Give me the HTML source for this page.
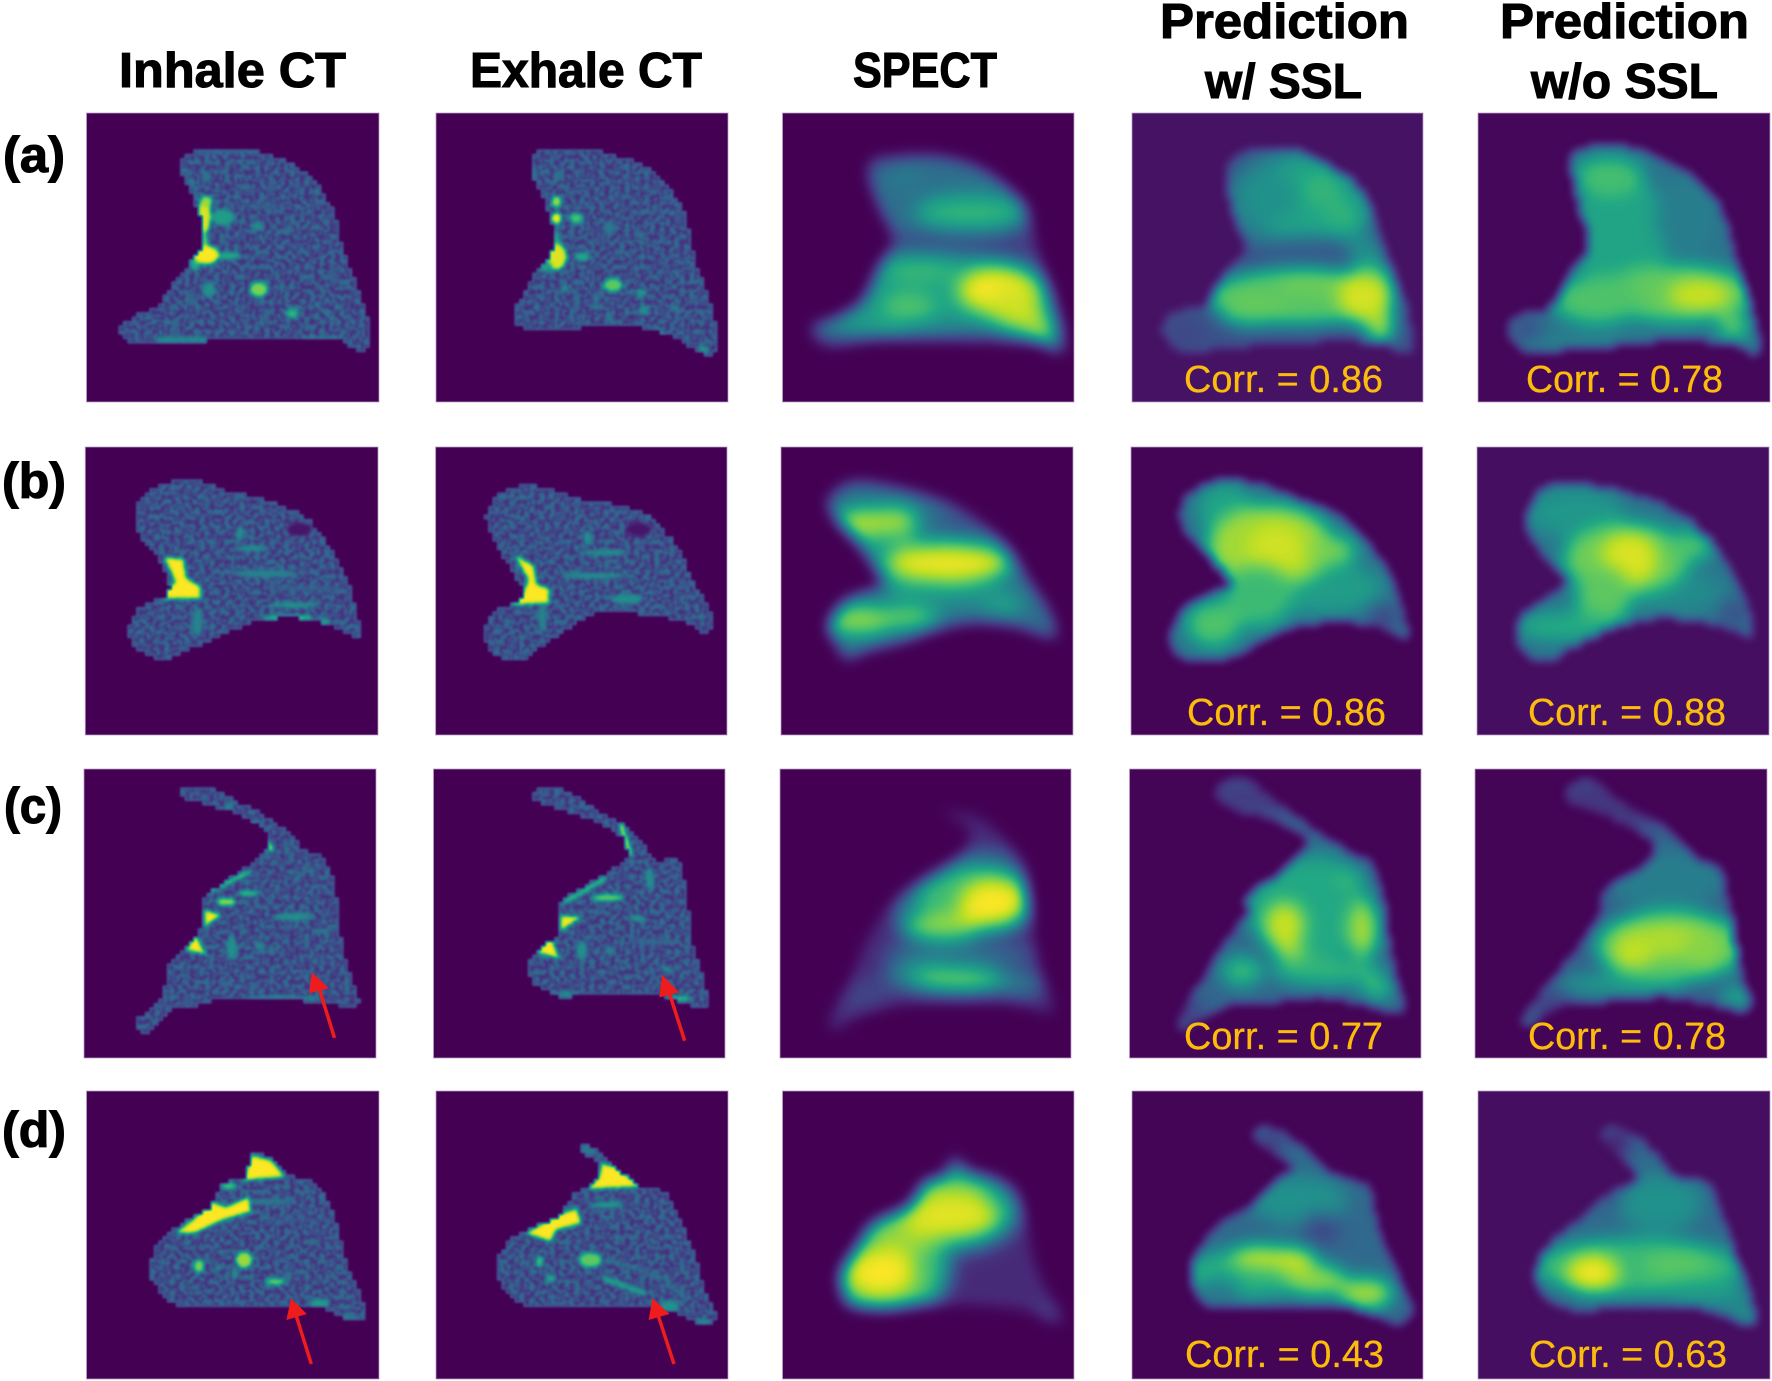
<!DOCTYPE html>
<html lang="en">
<head>
<meta charset="utf-8">
<title>Lung CT, SPECT and predictions</title>
<style>
html,body{margin:0;padding:0;background:#fff;width:1772px;height:1381px;overflow:hidden}
svg{display:block}
.title{font-family:"Liberation Sans",sans-serif;font-weight:bold;font-size:49px;fill:#000;stroke:#000;stroke-width:1.1px}
.rowlab{font-family:"Liberation Sans",sans-serif;font-weight:bold;font-size:50px;fill:#000;stroke:#000;stroke-width:1.1px}
.corr{font-family:"Liberation Sans",sans-serif;font-size:38px;fill:#fdbb0c;stroke:#fdbb0c;stroke-width:.3px}
</style>
</head>
<body>
<svg id="figure" xmlns="http://www.w3.org/2000/svg" width="1772" height="1381" viewBox="0 0 1772 1381">
  <defs id="defs"></defs>
  <g id="panels"></g>

  <g>
    <text class="title" x="119" y="87" textLength="227" lengthAdjust="spacingAndGlyphs">Inhale CT</text>
    <text class="title" x="470" y="87" textLength="232" lengthAdjust="spacingAndGlyphs">Exhale CT</text>
    <text class="title" x="853" y="87" textLength="144" lengthAdjust="spacingAndGlyphs">SPECT</text>
    <text class="title" x="1160" y="38" textLength="249" lengthAdjust="spacingAndGlyphs">Prediction</text>
    <text class="title" x="1205" y="98" textLength="157" lengthAdjust="spacingAndGlyphs">w/ SSL</text>
    <text class="title" x="1500" y="38" textLength="249" lengthAdjust="spacingAndGlyphs">Prediction</text>
    <text class="title" x="1531" y="98" textLength="187" lengthAdjust="spacingAndGlyphs">w/o SSL</text>
  </g>

  <g>
    <text class="rowlab" x="3" y="172" textLength="62" lengthAdjust="spacingAndGlyphs">(a)</text>
    <text class="rowlab" x="2" y="498" textLength="64" lengthAdjust="spacingAndGlyphs">(b)</text>
    <text class="rowlab" x="4" y="823" textLength="58" lengthAdjust="spacingAndGlyphs">(c)</text>
    <text class="rowlab" x="2" y="1147" textLength="64" lengthAdjust="spacingAndGlyphs">(d)</text>
  </g>

  <g>
    <text class="corr" x="1184" y="392" textLength="199" lengthAdjust="spacingAndGlyphs">Corr. = 0.86</text>
    <text class="corr" x="1526" y="392" textLength="197" lengthAdjust="spacingAndGlyphs">Corr. = 0.78</text>
    <text class="corr" x="1187" y="725" textLength="199" lengthAdjust="spacingAndGlyphs">Corr. = 0.86</text>
    <text class="corr" x="1528" y="725" textLength="198" lengthAdjust="spacingAndGlyphs">Corr. = 0.88</text>
    <text class="corr" x="1184" y="1049" textLength="199" lengthAdjust="spacingAndGlyphs">Corr. = 0.77</text>
    <text class="corr" x="1528" y="1049" textLength="198" lengthAdjust="spacingAndGlyphs">Corr. = 0.78</text>
    <text class="corr" x="1185" y="1367" textLength="199" lengthAdjust="spacingAndGlyphs">Corr. = 0.43</text>
    <text class="corr" x="1529" y="1367" textLength="198" lengthAdjust="spacingAndGlyphs">Corr. = 0.63</text>
  </g>

  <g fill="#ee1c1c" stroke="#ee1c1c">
    <g>
      <line x1="334.5" y1="1037.9" x2="319" y2="988" stroke-width="3.5"/>
      <polygon points="311.9,972.2 309,993.2 328.8,988.2" stroke="none"/>
    </g>
    <g>
      <line x1="684.7" y1="1040.8" x2="669" y2="992" stroke-width="3.5"/>
      <polygon points="662.1,974.7 659.3,997.4 679.1,992.4" stroke="none"/>
    </g>
    <g>
      <line x1="311.3" y1="1364" x2="296" y2="1315" stroke-width="3.5"/>
      <polygon points="291,1298.3 286.4,1320 306.8,1314" stroke="none"/>
    </g>
    <g>
      <line x1="674" y1="1364" x2="658" y2="1315" stroke-width="3.5"/>
      <polygon points="652.5,1298.3 648.6,1320 669.5,1314" stroke="none"/>
    </g>
  </g>
</svg>

<script>
// Viridis colormap stops
const viridisR = [.267,.282,.255,.208,.165,.129,.133,.267,.478,.741,.992];
const viridisG = [.004,.141,.267,.373,.471,.569,.659,.749,.820,.875,.906];
const viridisB = [.329,.459,.529,.553,.557,.549,.518,.439,.318,.149,.145];

// Reading frames: [originX, originY, scaleX, scaleY]
const frames = {
  z1:[0,0,1.77,3], z2:[886,0,1.77,3],
  z3:[0,420,1.77,2.376], z4:[886,420,1.77,2.376],
  z5:[0,1060,1.77,3], z6:[886,1060,1.77,3]
};

// Lung outlines and intensity regions, per panel.
// Blob: [cx,cy,rx,ry,intensity]. Streak: [x1,y1,x2,y2,width,intensity]. Patch: [x,y,x,y,...,intensity].
const a1Outline = [350,452,440,450,470,465,505,480,540,520,575,590,595,660,605,740,625,830,640,900,652,980,650,1050,640,1058,610,1030,590,1012,480,1012,415,1015,360,1025,270,1035,230,1025,215,1000,215,975,240,945,280,915,300,860,335,790,355,745,362,690,350,630,335,570,322,520,322,480];
const a1Blobs = [[280,1020,362,1020,12,.5],[540,1020,600,1020,12,.5],[350,456,440,456,6,.4],[325,500,350,590,5,.45],[560,910,600,975,4,.45],[365,530,6,15,.4],[510,690,8,8,.4],[362,645,10,50,.95],[365,605,10,15,.85],[395,652,18,22,.55],[362,725,6,25,.75],[345,790,8,20,.6],[405,767,18,10,.6],[365,765,20,25,1],[455,680,10,10,.5],[458,868,14,20,.8],[370,870,10,20,.5],[517,940,10,13,.65],[480,560,5,25,.3],[340,900,5,20,.35],[310,980,4,25,.35],[470,950,4,25,.32],[470,620,25,6,.32],[590,830,6,20,.3]];
const a2Outline = [960,450,1050,452,1090,470,1130,490,1165,530,1195,590,1215,660,1225,750,1240,830,1255,900,1272,1030,1265,1060,1240,1060,1205,1020,1170,995,1100,975,1020,985,940,985,915,970,912,925,930,870,950,810,975,760,982,700,970,630,955,570,942,520,942,480];
const a2Blobs = [[985,530,5,15,.4],[945,530,5,30,.4],[985,605,8,15,.85],[985,655,8,15,1],[1020,655,10,15,.7],[985,715,5,20,.6],[985,770,16,35,.95],[1030,770,12,12,.6],[965,800,10,15,.55],[1085,855,15,18,.75],[1135,878,8,10,.55],[1140,930,8,12,.5],[1078,685,8,20,.4],[1000,865,6,10,.5],[1055,900,4,25,.4],[1020,900,4,30,.35],[1165,1000,10,10,.5],[1195,925,8,10,.4],[1080,950,5,15,.4],[1245,1050,8,12,.5],[1130,705,8,8,.38],[1160,630,6,8,.32]];
const a3Outline = [2,474,90,470,170,510,230,590,250,640,270,780,300,920,315,1040,300,1055,270,1025,200,1020,100,1015,-20,1015,-100,1035,-130,985,-80,950,-40,900,-10,800,15,720,-10,620,-30,520,-20,480];
const a3Blobs = [[100,600,130,110,.36],[30,520,30,30,.42],[150,640,80,45,.66],[110,730,170,22,.17],[60,890,190,110,.56],[60,810,50,25,.7],[40,920,40,30,.76],[-60,880,40,60,.5],[200,870,60,60,1],[230,930,40,60,.93],[275,990,22,45,.88],[120,990,80,14,.35]];
const a4Outline = [640,450,720,450,770,490,820,540,850,600,870,680,885,760,905,850,925,960,930,1050,915,1060,880,1030,800,1022,700,1030,620,1040,530,1055,500,1020,490,980,510,935,560,920,590,840,620,780,640,740,625,680,610,600,605,500];
const a4Blobs = [[740,600,110,130,.45],[740,600,70,100,.58],[770,570,30,40,.66],[810,650,30,50,.64],[680,590,40,60,.5],[750,750,70,30,.28],[850,760,25,40,.5],[730,890,130,70,.74],[650,930,50,40,.76],[780,840,70,22,.8],[850,890,40,70,.94],[875,975,20,45,.88],[870,820,18,18,.8],[530,1000,25,40,.22]];
const a5Outline = [1230,445,1320,445,1370,480,1430,540,1470,610,1495,720,1510,820,1535,950,1545,1050,1530,1060,1500,1030,1400,1020,1300,1035,1200,1050,1130,1050,1105,1000,1110,950,1170,925,1215,810,1240,760,1245,700,1225,600,1215,490];
const a5Blobs = [[1300,700,70,140,.58],[1280,530,50,50,.7],[1420,650,45,100,.42],[1400,880,110,70,.76],[1260,900,65,60,.72],[1440,885,45,40,.92],[1500,980,22,32,.76],[1135,1000,22,40,.22],[1230,1025,90,18,.45]];

const b1Outline = [300,147,355,147,400,170,470,190,540,235,580,300,610,370,630,450,640,510,630,515,590,490,530,470,470,475,430,490,370,525,300,568,265,560,235,530,228,495,250,440,290,420,300,395,280,330,250,275,238,225,255,175];
const b1Blobs = [[530,260,20,15,.06],[425,270,6,15,.5],[445,305,25,6,.5],[470,365,50,8,.45],[545,400,60,5,.32],[520,440,40,5,.55],[510,470,40,5,.8],[575,480,8,8,.55],[350,480,8,30,.45],[290,325,325,330,330,375,355,395,355,425,290,425,285,410,310,385,300,355,1]];
const b2Outline = [920,155,970,165,1030,190,1100,205,1155,240,1200,310,1225,380,1250,440,1263,485,1245,505,1215,480,1160,465,1090,455,1040,470,980,520,930,570,890,565,860,530,855,495,880,450,920,430,925,400,900,340,872,275,860,225,880,180];
const b2Blobs = [[1130,260,20,15,.06],[1040,280,6,15,.5],[1070,315,35,6,.5],[1050,370,50,6,.5],[1110,425,25,10,.5],[960,470,6,30,.45],[910,320,945,345,950,390,972,400,972,435,905,440,925,410,935,380,1]];
const b3Outline = [-60,150,10,160,90,190,150,230,210,300,260,400,285,450,300,510,280,510,220,485,150,480,80,500,30,525,-30,545,-70,565,-90,520,-100,490,-70,430,-10,395,-10,370,-50,290,-90,230,-100,190];
const b3Blobs = [[150,240,40,30,.25],[-10,320,30,50,.5],[130,420,90,25,.5],[30,350,30,70,.55],[-40,245,40,30,.92],[10,240,40,28,.9],[110,340,90,40,.98],[-50,475,50,30,.85],[20,470,60,18,.88],[210,440,30,20,.6]];
const b4Outline = [570,150,650,150,720,185,800,230,860,310,900,400,922,510,905,510,860,485,790,480,730,490,670,520,620,560,560,575,520,560,503,520,520,460,560,420,610,385,570,320,530,260,525,200];
const b4Blobs = [[600,210,40,50,.58],[850,420,35,45,.4],[780,400,80,50,.55],[680,300,90,80,.86],[690,310,40,50,.93],[790,310,35,28,.8],[660,420,50,60,.68],[580,485,40,45,.72],[880,470,25,28,.22]];
const b5Outline = [1180,150,1260,160,1350,190,1420,240,1480,330,1515,420,1535,505,1520,510,1470,485,1380,470,1300,490,1230,530,1180,570,1140,560,1115,510,1130,460,1170,420,1205,385,1165,320,1135,250,1145,190];
const b5Blobs = [[1220,220,70,50,.52],[1400,410,70,40,.48],[1310,330,90,70,.78],[1315,330,40,50,.95],[1420,300,35,30,.72],[1270,420,40,60,.75],[1200,490,70,28,.62],[1500,460,22,30,.25]];

const c1Outline = [330,872,370,875,430,915,500,970,540,1025,575,1045,595,1130,605,1250,625,1340,635,1385,625,1400,590,1385,530,1380,400,1378,340,1395,300,1405,265,1455,240,1430,285,1370,300,1290,330,1250,360,1190,362,1135,420,1075,465,1030,478,1000,465,965,410,930,345,905,320,890];
const c1Blobs = [[405,930,6,20,.45],[450,960,480,1020,10,.95],[500,1000,520,1030,4,.4],[520,1095,550,1060,5,.5],[370,1120,440,1075,8,.8],[400,1145,15,8,.85],[440,1125,15,6,.7],[362,1165,392,1175,362,1205,1],[345,1220,365,1270,330,1260,1],[520,1180,30,8,.5],[570,1215,15,6,.4],[410,1255,8,25,.5],[460,1250,8,10,.45],[480,1260,6,8,.4],[500,1375,60,5,.5],[400,1340,8,8,.35],[450,1345,8,8,.35]];
const c2Outline = [955,870,990,875,1050,925,1100,960,1140,1010,1160,1045,1200,1050,1215,1130,1225,1250,1245,1330,1255,1385,1245,1400,1190,1375,1130,1360,1020,1370,990,1370,945,1335,932,1300,950,1260,990,1215,990,1150,1040,1100,1100,1050,1110,1020,1090,975,1020,935,950,905,945,885];
const c2Blobs = [[1100,965,1115,1030,10,.95],[1000,1145,1070,1090,8,.8],[1075,1135,25,8,.75],[992,1178,1030,1180,992,1215,1],[975,1225,990,1280,950,1265,1],[1130,1185,12,6,.55],[1030,1260,8,20,.5],[1080,1262,8,8,.45],[1150,1090,6,25,.5],[1000,1365,20,5,.5],[1200,1375,20,5,.75],[1180,1305,8,5,.5],[1160,1240,40,5,.35]];
const c3Outline = [100,930,170,950,215,1010,240,1060,255,1180,270,1300,295,1395,280,1405,230,1385,130,1380,40,1385,-20,1400,-60,1420,-85,1445,-100,1430,-60,1330,-30,1230,20,1140,60,1100,130,1040,150,1000,140,960];
const c3Blobs = [[170,980,30,20,.1],[160,1040,60,20,.3],[-40,1370,40,40,.2],[130,1270,110,20,.4],[60,1320,50,25,.5],[240,1340,30,25,.42],[130,1330,70,22,.85],[160,1130,90,60,.68],[35,1160,15,30,.42],[100,1205,60,25,.88],[190,1150,50,50,1]];
const c4Outline = [600,860,640,860,700,920,760,980,820,1030,860,1060,880,1150,895,1280,915,1390,900,1405,850,1390,770,1370,680,1385,600,1395,540,1440,530,1450,518,1420,560,1330,600,1240,640,1170,640,1130,700,1070,740,1020,740,990,690,950,610,920,585,890];
const c4Blobs = [[650,895,70,40,.18],[780,1040,30,30,.4],[750,1160,90,100,.6],[820,1085,20,20,.68],[705,1200,30,45,.92],[715,1265,25,15,.88],[845,1210,22,55,.88],[630,1310,30,30,.68],[780,1310,80,28,.65],[870,1350,22,22,.7],[530,1410,25,30,.18]];
const c5Outline = [1215,865,1250,860,1310,920,1380,970,1430,1040,1475,1070,1495,1180,1510,1300,1530,1385,1515,1405,1470,1390,1380,1370,1280,1380,1200,1390,1140,1440,1130,1420,1170,1340,1230,1240,1265,1170,1275,1110,1340,1060,1360,1020,1340,980,1280,940,1205,900];
const c5Blobs = [[1290,910,90,50,.16],[1380,1090,90,60,.42],[1300,1340,90,22,.55],[1390,1250,110,70,.74],[1385,1235,80,35,.88],[1320,1275,30,22,.92],[1450,1260,30,40,.82],[1505,1370,22,22,.62],[1180,1400,30,30,.18]];

const d1Outline = [445,275,480,300,510,345,550,365,575,410,590,470,605,560,615,620,640,720,650,770,630,785,590,755,550,740,440,735,350,745,300,725,280,680,265,630,280,545,320,490,370,440,395,370,435,350];
const d1Blobs = [[520,480,60,4,.3],[480,425,40,8,.4],[445,285,480,300,505,350,430,362,1],[405,378,12,10,.7],[310,520,340,480,375,425,400,440,440,410,445,455,395,480,345,520,1],[352,618,8,18,.8],[432,600,13,22,.85],[415,640,5,15,.5],[487,665,15,10,.75],[565,730,15,12,.55],[620,770,15,5,.5],[385,625,5,8,.45],[510,650,6,15,.4]];
const d2Outline = [1030,258,1050,265,1075,300,1105,345,1140,385,1175,395,1195,450,1215,530,1232,600,1250,710,1268,770,1245,795,1210,770,1165,745,1060,740,940,740,905,705,880,640,890,565,930,510,985,470,1015,400,1040,380,1060,320,1025,270];
const d2Blobs = [[1040,270,12,15,.4],[1075,595,1180,660,6,.42],[1180,660,1215,720,6,.42],[1070,655,1140,700,10,.62],[1065,310,1090,320,1135,380,1040,388,1060,350,1],[930,520,985,465,1020,445,1030,490,985,510,975,545,1],[1045,600,18,20,.75],[955,605,6,15,.7],[1075,435,25,8,.55],[975,655,8,10,.6],[1185,740,15,18,.5],[1245,785,10,8,.5]];
const d3Outline = [120,290,150,335,200,360,235,420,260,600,285,700,310,770,295,785,250,750,180,735,80,730,0,745,-60,735,-75,700,-78,640,-50,560,-20,490,40,440,70,370,105,345];
const d3Blobs = [[120,310,15,30,.2],[200,620,90,120,.12],[290,760,20,30,.2],[100,450,110,100,.58],[0,620,90,130,.68],[120,400,50,40,.82],[30,540,40,50,.84],[60,680,30,40,.72],[115,470,70,55,.96],[-10,640,50,60,1]];
const d4Outline = [660,205,690,210,740,270,780,335,850,380,860,430,875,530,905,650,930,760,905,790,870,765,820,745,720,740,620,745,570,735,545,680,540,650,555,560,600,480,650,430,690,360,720,320,680,270,655,230];
const d4Blobs = [[680,250,20,30,.15],[730,420,70,60,.5],[770,510,28,38,.22],[640,640,90,60,.64],[590,690,28,30,.42],[700,595,50,28,.95],[660,590,40,28,.92],[760,660,45,38,.84],[850,700,38,38,.88],[910,770,15,20,.3]];
const d5Outline = [1275,205,1310,215,1370,300,1395,350,1450,370,1480,470,1510,620,1540,770,1525,795,1490,770,1430,740,1340,735,1230,750,1180,725,1160,690,1150,640,1175,550,1230,470,1280,400,1330,350,1300,280,1270,240];
const d5Blobs = [[1290,250,25,40,.1],[1300,400,30,40,.25],[1370,430,60,70,.5],[1330,620,150,70,.67],[1400,615,50,40,.74],[1450,700,60,30,.55],[1250,640,40,50,.94],[1250,640,20,25,1],[1520,760,20,25,.5]];

// Panel kinds: edge softness, blob softness, blob growth, staircase size
const kinds = {
  ct:{edge:1.1,blob:1.8,grow:1.15,step:4.4,speckle:true},
  spect:{edge:7,blob:8,grow:1.25,step:0,speckle:false},
  pred:{edge:4.5,blob:8,grow:1.25,step:4.4,speckle:false}
};

// [id, frame, kind, left, top, width, height, background intensity, base intensity, outline, regions]
const panels = [
  ['a1','z1','ct',86.5,113,292.5,289,0,.15,a1Outline,a1Blobs],
  ['a2','z1','ct',436,113,292,289,0,.15,a2Outline,a2Blobs],
  ['a3','z2','spect',782.5,113,291.5,289,0,.2,a3Outline,a3Blobs],
  ['a4','z2','pred',1132,113,291,289,.05,.25,a4Outline,a4Blobs],
  ['a5','z2','pred',1478,113,292,289,.02,.38,a5Outline,a5Blobs],
  ['b1','z3','ct',85.3,447,292.7,288,0,.15,b1Outline,b1Blobs],
  ['b2','z3','ct',435.6,447,291.4,288,0,.15,b2Outline,b2Blobs],
  ['b3','z4','spect',781,447,292,288,0,.35,b3Outline,b3Blobs],
  ['b4','z4','pred',1131,447,291.7,288,.01,.38,b4Outline,b4Blobs],
  ['b5','z4','pred',1477,447,292,288,.04,.38,b5Outline,b5Blobs],
  ['c1','z3','ct',84,769,292,289,0,.15,c1Outline,c1Blobs],
  ['c2','z3','ct',433.5,769,291.5,289,0,.15,c2Outline,c2Blobs],
  ['c3','z4','spect',780,769,291,289,0,.12,c3Outline,c3Blobs],
  ['c4','z4','pred',1129.5,769,291.5,289,.01,.33,c4Outline,c4Blobs],
  ['c5','z4','pred',1475,769,292,289,.01,.3,c5Outline,c5Blobs],
  ['d1','z5','ct',86.5,1091,292.5,288,0,.15,d1Outline,d1Blobs],
  ['d2','z5','ct',436,1091,292,288,0,.15,d2Outline,d2Blobs],
  ['d3','z6','spect',782.5,1091,291.5,288,0,.12,d3Outline,d3Blobs],
  ['d4','z6','pred',1132,1091,291,288,.01,.34,d4Outline,d4Blobs],
  ['d5','z6','pred',1478,1091,292,288,.04,.35,d5Outline,d5Blobs]
];

const NS = 'http://www.w3.org/2000/svg';
function make(tag, attrs, parent){
  const n = document.createElementNS(NS, tag);
  for (const k in attrs) n.setAttribute(k, attrs[k]);
  if (parent) parent.appendChild(n);
  return n;
}
function gray(v){
  const c = Math.round(Math.max(0, Math.min(1, v)) * 255);
  return 'rgb(' + c + ',' + c + ',' + c + ')';
}
const defs = document.getElementById('defs');
const root = document.getElementById('panels');

function makeFilter(id, x, y, w, h){
  return make('filter', {id:id, filterUnits:'userSpaceOnUse', x:x, y:y, width:w, height:h, 'color-interpolation-filters':'sRGB'}, defs);
}

// Closed Catmull-Rom smoothing, then optional pixel staircase like a low-res image
function tracePath(xs, ys, step){
  const n = xs.length, out = [];
  for (let i = 0; i < n; i++) {
    const x0 = xs[(i + n - 1) % n], x1 = xs[i], x2 = xs[(i + 1) % n], x3 = xs[(i + 2) % n];
    const y0 = ys[(i + n - 1) % n], y1 = ys[i], y2 = ys[(i + 1) % n], y3 = ys[(i + 2) % n];
    for (let k = 0; k < 10; k++) {
      const t = k / 10, t2 = t * t, t3 = t2 * t;
      out.push([
        .5 * (2 * x1 + (x2 - x0) * t + (2 * x0 - 5 * x1 + 4 * x2 - x3) * t2 + (3 * x1 - x0 - 3 * x2 + x3) * t3),
        .5 * (2 * y1 + (y2 - y0) * t + (2 * y0 - 5 * y1 + 4 * y2 - y3) * t2 + (3 * y1 - y0 - 3 * y2 + y3) * t3)
      ]);
    }
  }
  if (!step) return out.map(function(q){ return q[0].toFixed(1) + ',' + q[1].toFixed(1); }).join(' ');
  const snapped = [];
  out.forEach(function(q){
    const sx = Math.round(q[0] / step) * step, sy = Math.round(q[1] / step) * step;
    const last = snapped[snapped.length - 1];
    if (last && last[0] !== sx && last[1] !== sy) snapped.push([sx, last[1]]);
    snapped.push([sx, sy]);
  });
  return snapped.map(function(q){ return q[0].toFixed(1) + ',' + q[1].toFixed(1); }).join(' ');
}

panels.forEach(function(p, idx){
  const id = p[0], fr = frames[p[1]], kind = kinds[p[2]];
  const L = p[3], T = p[4], W = p[5], H = p[6], bgV = p[7], baseV = p[8], outline = p[9], blobs = p[10];
  const px = function(z){ return fr[0] + z / fr[2]; };
  const py = function(z){ return fr[1] + z / fr[3]; };

  // filters
  const vf = makeFilter('vir-' + id, L, T, W, H);
  const ct = make('feComponentTransfer', {}, vf);
  make('feFuncR', {type:'table', tableValues:viridisR.join(' ')}, ct);
  make('feFuncG', {type:'table', tableValues:viridisG.join(' ')}, ct);
  make('feFuncB', {type:'table', tableValues:viridisB.join(' ')}, ct);
  const ef = makeFilter('edge-' + id, L, T, W, H);
  make('feGaussianBlur', {stdDeviation:kind.edge}, ef);
  const bf = makeFilter('blob-' + id, L - 30, T - 30, W + 60, H + 60);
  make('feGaussianBlur', {stdDeviation:kind.blob}, bf);

  // lung clip
  const xs = [], ys = [];
  for (let i = 0; i < outline.length; i += 2) { xs.push(px(outline[i])); ys.push(py(outline[i + 1])); }
  const ptsText = tracePath(xs, ys, kind.step);
  const cp = make('clipPath', {id:'lung-' + id}, defs);
  make('polygon', {points:ptsText}, cp);

  const panel = make('g', {}, root);
  
  

  const image = make('g', {filter:'url(#vir-' + id + ')'}, panel);
  const bg = make('rect', {x:L, y:T, width:W, height:H, fill:gray(bgV)}, image);
  
  

  const soft = make('g', {filter:'url(#edge-' + id + ')'}, image);
  const lung = make('g', {'clip-path':'url(#lung-' + id + ')'}, soft);
  
  
  make('rect', {x:L, y:T, width:W, height:H, fill:gray(baseV)}, lung);

  if (kind.speckle) {
    const nf = makeFilter('noise-' + id, L, T, W, H);
    make('feTurbulence', {type:'fractalNoise', baseFrequency:'0.2', numOctaves:2, seed:idx + 3}, nf);
    make('feColorMatrix', {type:'matrix', values:'0 0 0 0 .36  0 0 0 0 .36  0 0 0 0 .36  3.4 0 0 0 -1.25'}, nf);
    make('rect', {x:L, y:T, width:W, height:H, filter:'url(#noise-' + id + ')'}, lung);
    make('polygon', {points:ptsText, fill:'none', stroke:gray(.3), 'stroke-width':3}, lung);
  }

  const blobGroup = make('g', {filter:'url(#blob-' + id + ')'}, lung);
  blobs.forEach(function(b){
    let mark;
    if (b.length === 5) {
      mark = make('ellipse', {cx:px(b[0]), cy:py(b[1]), rx:kind.grow * b[2] / fr[2], ry:kind.grow * b[3] / fr[3], fill:gray(b[4])}, blobGroup);
    } else if (b.length === 6) {
      mark = make('line', {x1:px(b[0]), y1:py(b[1]), x2:px(b[2]), y2:py(b[3]), stroke:gray(b[5]), 'stroke-width':b[4] / 2.2, 'stroke-linecap':'round'}, blobGroup);
    } else {
      const corners = [];
      for (let i = 0; i + 1 < b.length - 1; i += 2) corners.push(px(b[i]).toFixed(1) + ',' + py(b[i + 1]).toFixed(1));
      mark = make('polygon', {points:corners.join(' '), fill:gray(b[b.length - 1])}, blobGroup);
    }
    
    
  });

  const border = make('rect', {x:L, y:T, width:W, height:H, fill:'none', stroke:'#b99cc4', 'stroke-width':1, 'stroke-opacity':.75}, panel);
  
  
});
</script>
</body>
</html>
